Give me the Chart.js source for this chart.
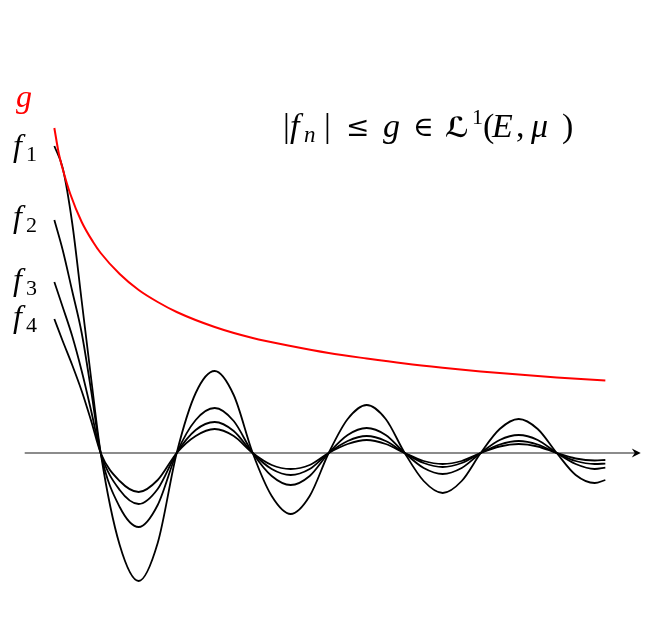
<!DOCTYPE html>
<html lang="en">
<head>
    <meta charset="UTF-8">
    <title>Dominated convergence</title>
    <script src="https://cdn.jsdelivr.net/npm/chart.js"></script>
    <style>
        html, body { margin: 0; padding: 0; background: #fff; }
        #chartBox { width: 652px; height: 642px; }
    </style>
</head>
<body>
    <div id="chartBox"><canvas id="domChart" width="652" height="642"></canvas></div>
    <script>
        // sample positions along the axis (zeros of f_n at 1, 2, 3, ...)
        const xs = [0.39, 0.5, 0.625, 0.75, 0.875, 1, 1.25, 1.5, 1.75, 2, 2.25, 2.5, 2.75, 3, 3.25, 3.5, 3.75, 4,
                    4.25, 4.5, 4.75, 5, 5.25, 5.5, 5.75, 6, 6.25, 6.5, 6.75, 7, 7.25, 7.5, 7.64];
        const f1 = [307, 285, 230, 152, 74, 0, -92, -128, -90, 0, 60, 82, 58, 0, -43, -61, -43, 0,
                    34, 48, 34, 0, -28, -40, -28, 0, 24, 34, 24, 0, -22, -30, -27];
        const f2 = [233, 203, 162, 120, 62, 0, -54, -74, -52, 0, 33, 45, 32, 0, -23, -32, -23, 0,
                    18, 25, 18, 0, -15, -21, -15, 0, 13, 18, 13, 0, -11, -16, -14.6];
        const f3 = [171, 146, 117, 82, 42, 0, -37, -51, -36, 0, 23, 31, 22, 0, -16, -22, -16, 0,
                    12, 17, 12, 0, -10, -14, -10, 0, 8.5, 12, 8.5, 0, -8, -11, -10.6];
        const f4 = [134, 112, 88, 62, 32, 0, -28, -39, -27, 0, 17, 24, 17, 0, -12, -16, -12, 0,
                    9, 13, 9, 0, -8, -11, -8, 0, 6.5, 9, 6.5, 0, -5.5, -7.5, -7];

        // the dominating function g
        const gX = [0.39, 0.45, 0.5, 0.6, 0.75, 0.9, 1, 1.25, 1.5, 1.75, 2, 2.5, 3, 3.5, 4, 4.5, 5, 5.5, 6, 6.5, 7, 7.64];
        const gY = [325, 299, 284, 259, 231, 211, 200, 179, 163, 151, 141, 126, 115, 107, 100, 94.5, 89.5, 85.3, 81.6, 78.4, 75.6, 72.5];

        const axisX = [0, 8.08];
        const seriesNames = ['f1', 'f2', 'f3', 'f4'];

        function pts(xv, yv) {
            return xv.map((x, i) => ({ x: x, y: yv[i] }));
        }

        const lineStyle = { pointRadius: 0, fill: false, cubicInterpolationMode: 'monotone' };

        // labels + arrow head drawn on top
        const decorations = {
            id: 'decorations',
            afterDraw(chart) {
                const ctx = chart.ctx;
                const sx = chart.scales.x, sy = chart.scales.y;
                const y0 = sy.getPixelForValue(0);
                const tip = sx.getPixelForValue(axisX[1]) + 2;

                ctx.save();
                ctx.fillStyle = '#000';
                ctx.beginPath();
                ctx.moveTo(tip, y0);
                ctx.lineTo(tip - 9, y0 - 4.5);
                ctx.lineTo(tip - 6, y0);
                ctx.lineTo(tip - 9, y0 + 4.5);
                ctx.closePath();
                ctx.fill();

                ctx.textBaseline = 'alphabetic';
                ctx.textAlign = 'left';
                const it = "italic 32px 'Liberation Serif'";
                const sub = "22px 'Liberation Serif'";

                // g label
                ctx.fillStyle = '#ff0000';
                ctx.font = it;
                ctx.fillText('g', 16, sy.getPixelForValue(gY[0]) - 21);

                // f_n labels next to their curves
                ctx.fillStyle = '#000';
                const startVals = [f1[0], f2[0], f3[0], f4[0]];
                const offs = [10, 7, 8, 8];
                seriesNames.forEach((nm, i) => {
                    const by = sy.getPixelForValue(startVals[i]) + offs[i];
                    ctx.font = it;
                    ctx.fillText('f', 13, by);
                    ctx.font = sub;
                    ctx.fillText(nm.slice(1), 26, by + 5);
                });

                // formula |f_n| ≤ g ∈ ℒ¹(E, μ), piece by piece
                const base = 137;
                const up = "34px 'Liberation Serif'";
                const itB = "italic 34px 'Liberation Serif'";
                const sym = "28px 'DejaVu Serif'";
                const parts = [
                    ['|', up, 283, 0], ['f', itB, 290, 0], ['n', "italic 23px 'Liberation Serif'", 304, 5],
                    ['|', up, 324, 0], ['≤', sym, 346, -1], ['g', itB, 383, 0], ['∈', sym, 413, -1],
                    ['ℒ', "bold 28px 'DejaVu Sans'", 445, 0], ['1', "22px 'Liberation Serif'", 472, -13],
                    ['(', up, 483, 0], ['E', itB, 492, 0], [',', up, 516, 0], ['μ', itB, 531, 0], [')', up, 562, 0]
                ];
                parts.forEach(p => {
                    ctx.font = p[1];
                    ctx.fillText(p[0], p[2], base + p[3]);
                });
                ctx.restore();
            }
        };

        new Chart(document.getElementById('domChart'), {
            type: 'line',
            data: {
                datasets: [
                    Object.assign({ label: 'g', data: pts(gX, gY), borderColor: '#ff0000', borderWidth: 2 }, lineStyle),
                    Object.assign({ label: 'f1', data: pts(xs, f1), borderColor: '#000', borderWidth: 1.8 }, lineStyle),
                    Object.assign({ label: 'f2', data: pts(xs, f2), borderColor: '#000', borderWidth: 1.8 }, lineStyle),
                    Object.assign({ label: 'f3', data: pts(xs, f3), borderColor: '#000', borderWidth: 1.8 }, lineStyle),
                    Object.assign({ label: 'f4', data: pts(xs, f4), borderColor: '#000', borderWidth: 1.8 }, lineStyle),
                    Object.assign({ label: 'axis', data: pts(axisX, [0, 0]), borderColor: '#666', borderWidth: 1.6 }, lineStyle)
                ]
            },
            options: {
                responsive: false,
                animation: false,
                devicePixelRatio: 1,
                layout: { padding: 0 },
                plugins: { legend: { display: false }, tooltip: { enabled: false }, title: { display: false } },
                scales: {
                    x: { type: 'linear', min: -0.325, max: 8.254, display: false },
                    y: { type: 'linear', min: -189, max: 453, display: false }
                }
            },
            plugins: [decorations]
        });
    </script>
</body>
</html>
